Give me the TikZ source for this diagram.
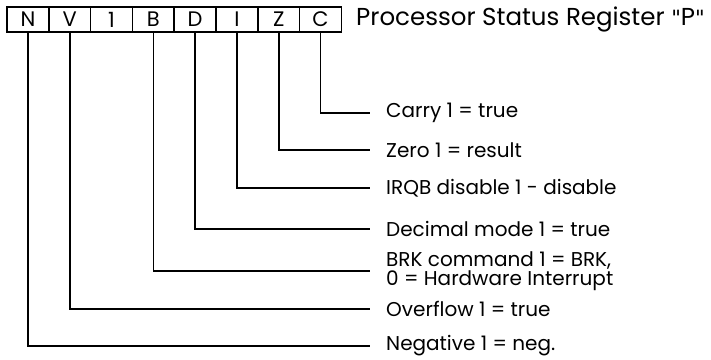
\documentclass[tikz,border=0pt]{standalone}
\usepackage{fontspec}
\setmainfont{Poppins}
\newfontfamily\qfont{DejaVu Sans}
\begin{document}
\begin{tikzpicture}[x=1pt,y=1pt,
  bit/.style={draw,line width=1.6pt,minimum width=41.8pt,minimum height=25pt,inner sep=0pt,font=\fontsize{21}{21}\selectfont},
  lbl/.style={anchor=west,inner sep=0pt,align=left,font=\fontsize{20}{19}\selectfont},
  lead/.style={line width=1.6pt}]
\useasboundingbox (0,0) rectangle (711,-359);
\foreach \n/\t [count=\i from 0] in {bN/N,bV/V,b1/1,bB/B,bD/D,bI/I,bZ/Z,bC/C}
  \node[bit] (\n) at (7+20.9+41.8*\i,-19.5) {\t};
\node[anchor=west,inner sep=0pt,font=\fontsize{24.5}{24}\selectfont] (title) at (356,-19.5) {Processor Status Register {\qfont\fontsize{21}{21}\selectfont "}P{\qfont\fontsize{21}{21}\selectfont "}};
\node[lbl] (lC) at (386,-113) {Carry 1 = true};
\node[lbl] (lZ) at (386,-150) {Zero 1 = result};
\node[lbl] (lI) at (386,-188) {IRQB disable 1 - disable};
\node[lbl] (lD) at (386,-229) {Decimal mode 1 = true};
\node[lbl] (lB) at (386,-271) {BRK command 1 = BRK,\\0 = Hardware Interrupt};
\node[lbl] (lV) at (386,-309) {Overflow 1 = true};
\node[lbl] (lN) at (386,-346) {Negative 1 = neg.};
\foreach \b/\l in {bC/lC,bZ/lZ,bI/lI,bD/lD,bB/lB,bV/lV,bN/lN}
  \draw[lead] (\b.south) |- ([xshift=-16pt]\l.west);
\end{tikzpicture}
\end{document}
